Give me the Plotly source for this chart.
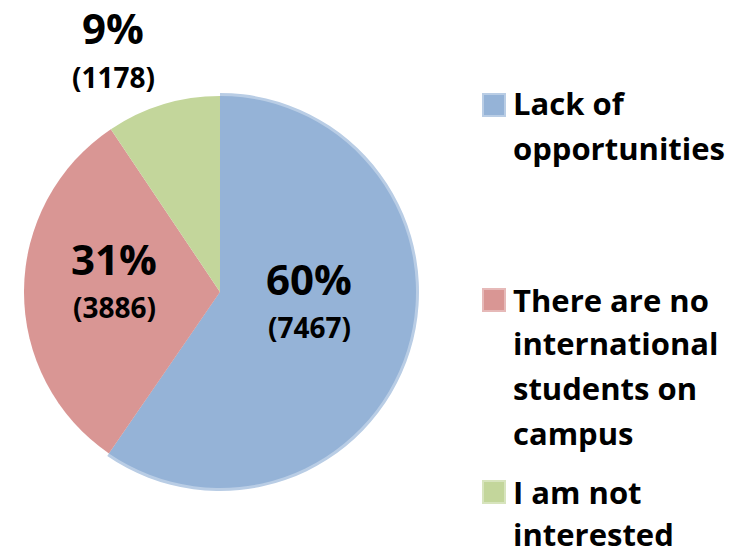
import plotly.graph_objects as go

# ---- data ----
categories = ["Lack of opportunities",
              "There are no international students on campus",
              "I am not interested"]
legend_lines = [["Lack of", "opportunities"],
                ["There are no", "international", "students on", "campus"],
                ["I am not", "interested"]]
counts = [7467, 3886, 1178]

# ---- styles ----
colors = ["#95b3d7", "#d99694", "#c3d69b"]
edge_colors = ["#b9cde5", "#e6b9b8", "#d7e4bd"]
FONT = "Open Sans"
W, H = 738, 554

total = sum(counts)
pcts = [f"{round(c / total * 100)}%" for c in counts]


def dom(cx, cy, r):
    return dict(x=[(cx - r) / W, (cx + r) / W],
                y=[1 - (cy + r) / H, 1 - (cy - r) / H])


def px(x, y):
    return x / W, 1 - y / H


CX, CY, R = 220, 292, 196

fig = go.Figure()
# light outer ring (only the first slice shows it)
fig.add_trace(go.Pie(
    labels=categories, values=counts, sort=False, direction="clockwise",
    rotation=0, domain=dom(CX, CY, R + 3),
    marker=dict(colors=[edge_colors[0], "rgba(0,0,0,0)", "rgba(0,0,0,0)"],
                line=dict(width=0)),
    textinfo="none", hoverinfo="skip", showlegend=False))
fig.add_trace(go.Pie(
    labels=categories, values=counts, sort=False, direction="clockwise",
    rotation=0, domain=dom(CX, CY, R),
    marker=dict(colors=colors, line=dict(width=0)),
    textinfo="none", showlegend=False))

# slice labels: (x center, baseline) for percent and count
label_pos = [((309, 295), (309, 338)),
             ((114, 275), (115, 318)),
             ((113, 44), (113, 88))]
BIG, SMALL = 42, 28
annotations = []
for (p_pos, c_pos), p, c in zip(label_pos, pcts, counts):
    for (x, base), txt, size in ((p_pos, p, BIG), (c_pos, f"({c})", SMALL)):
        ax, ay = px(x, base - 0.388 * size)
        annotations.append(dict(x=ax, y=ay, xref="paper", yref="paper",
                                text=f"<b>{txt}</b>", showarrow=False,
                                xanchor="center", yanchor="middle",
                                font=dict(family=FONT, size=size, color="black")))

# manual legend
LEG_SIZE = 31
square_centers = [105, 300, 492]
line_baselines = [[115, 160], [312, 355, 400, 445], [504, 546]]
shapes = []
for i, (lines, bases, sc) in enumerate(zip(legend_lines, line_baselines, square_centers)):
    x0, y0 = px(483, sc + 11)
    x1, y1 = px(505, sc - 11)
    shapes.append(dict(type="rect", xref="paper", yref="paper",
                       x0=x0, x1=x1, y0=y0, y1=y1,
                       fillcolor=colors[i], line=dict(color=edge_colors[i], width=2)))
    for ln, b in zip(lines, bases):
        ax, ay = px(511, b - 0.388 * LEG_SIZE)
        annotations.append(dict(x=ax, y=ay, xref="paper", yref="paper",
                                text=f"<b>{ln}</b>", showarrow=False,
                                xanchor="left", yanchor="middle",
                                font=dict(family=FONT, size=LEG_SIZE, color="black")))

fig.update_layout(
    width=W, height=H, margin=dict(l=0, r=0, t=0, b=0),
    paper_bgcolor="white", plot_bgcolor="white",
    annotations=annotations, shapes=shapes, showlegend=False)

fig.write_html("out.html", config={"displayModeBar": False},
               post_script="document.body.style.margin='0';")
